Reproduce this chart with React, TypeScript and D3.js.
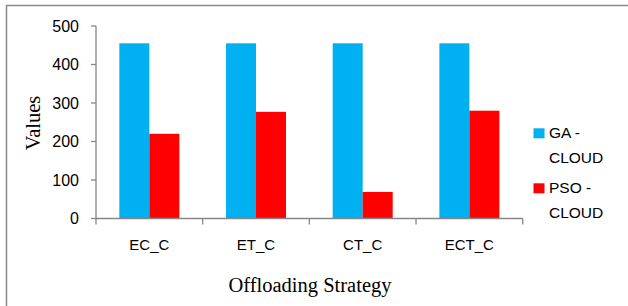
import React from "react";
import * as d3 from "d3";

const categories = ["EC_C", "ET_C", "CT_C", "ECT_C"];
const seriesNames = ["GA - CLOUD", "PSO - CLOUD"];
const gaValues = [455, 455, 455, 455];
const psoValues = [220, 277, 69, 280];
const yTicks = [0, 100, 200, 300, 400, 500];
const colors = ["#00B0F0", "#FF0000"];

export default function App() {
  const W = 628, H = 306;
  const x0 = 96, x1 = 522.7, yTop = 26, yBot = 218.5;
  const x = d3.scaleBand().domain(categories).range([x0, x1]).paddingInner(0.4375).paddingOuter(0.21875);
  const xs = d3.scaleBand().domain(seriesNames).range([0, x.bandwidth()]);
  const y = d3.scaleLinear().domain([0, 500]).range([yBot, yTop]);
  const series = [gaValues, psoValues];
  const sans = "'Liberation Sans', Arial, sans-serif";
  const serif = "'Liberation Serif', 'Times New Roman', serif";
  const axisColor = "#868686";
  const boundaries = categories.map((_, i) => x0 + (i * (x1 - x0)) / categories.length).concat([x1]);

  return (
    <svg width={W} height={H} style={{ position: "absolute", left: 0, top: 0 }}>
      <rect x={0} y={0} width={W} height={H} fill="#fff" />
      <rect x={6.5} y={5.5} width={640} height={320} fill="none" stroke="#8a8a8a" strokeWidth={1.5} />
      {series.map((vals, si) =>
        categories.map((c, ci) => (
          <rect
            key={`${si}-${ci}`}
            x={(x(c) as number) + (xs(seriesNames[si]) as number)}
            y={y(vals[ci])}
            width={xs.bandwidth()}
            height={y(0) - y(vals[ci])}
            fill={colors[si]}
          />
        ))
      )}
      <line x1={x0} x2={x0} y1={yTop} y2={yBot} stroke={axisColor} strokeWidth={1.3} />
      {yTicks.map((t) => (
        <g key={t}>
          <line x1={x0 - 5} x2={x0} y1={y(t)} y2={y(t)} stroke={axisColor} strokeWidth={1.3} />
          <text x={79} y={y(t) + 5.5} textAnchor="end" fontFamily={sans} fontSize={16} fill="#000">{t}</text>
        </g>
      ))}
      <line x1={x0} x2={x1} y1={yBot} y2={yBot} stroke={axisColor} strokeWidth={1.3} />
      {boundaries.map((b, i) => (
        <line key={i} x1={b} x2={b} y1={yBot} y2={yBot + 6} stroke={axisColor} strokeWidth={1.3} />
      ))}
      {categories.map((c) => (
        <text key={c} x={(x(c) as number) + x.bandwidth() / 2} y={250} textAnchor="middle" fontFamily={sans} fontSize={15} fill="#000">{c}</text>
      ))}
      <text transform={`translate(40,123) rotate(-90)`} textAnchor="middle" fontFamily={serif} fontSize={20.5} fill="#000">Values</text>
      <text x={310} y={291.5} textAnchor="middle" fontFamily={serif} fontSize={20.5} fill="#000">Offloading Strategy</text>
      {seriesNames.map((s, i) => {
        const [a, b] = s.split(" - ");
        const base = i === 0 ? 138.3 : 193.3;
        return (
          <g key={s}>
            <rect x={533.5} y={base - 10} width={11} height={10} fill={colors[i]} />
            <text x={549} y={base} fontFamily={sans} fontSize={15.5} fill="#000">{a + " -"}</text>
            <text x={549} y={base + 24.5} fontFamily={sans} fontSize={15.5} fill="#000">{b}</text>
          </g>
        );
      })}
    </svg>
  );
}
